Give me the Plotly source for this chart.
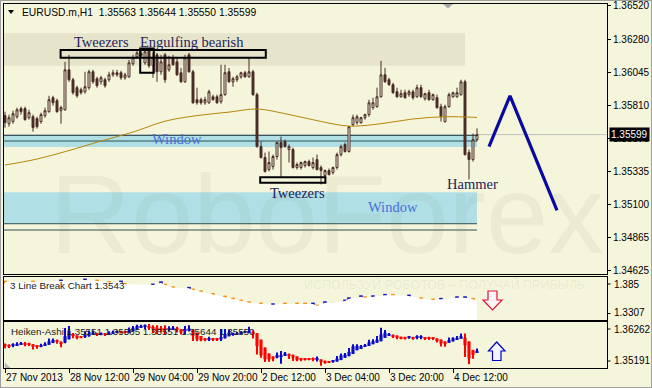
import plotly.graph_objects as go

W, H = 652, 388

# ---------------- DATA ----------------
bar_index = list(range(119))
opens = [
    1.35735, 1.35677, 1.35692, 1.35727, 1.35785, 1.35785, 1.35720, 1.35727, 1.35713, 1.35692,
    1.35735, 1.35763, 1.35863, 1.35842, 1.35770, 1.35777, 1.36063, 1.35992, 1.35935, 1.35920,
    1.35906, 1.35935, 1.36049, 1.35999, 1.35977, 1.35992, 1.35992, 1.36027, 1.36042, 1.36042,
    1.36006, 1.36013, 1.36106, 1.36156, 1.36184, 1.36113, 1.36199, 1.36092, 1.36170, 1.36049,
    1.36170, 1.36063, 1.36149, 1.36120, 1.36042, 1.35977, 1.36170, 1.36049, 1.35849, 1.35849,
    1.35827, 1.35827, 1.35870, 1.35870, 1.35835, 1.35885, 1.36049, 1.35977, 1.35992, 1.36013,
    1.36042, 1.36013, 1.36049, 1.35885, 1.35513, 1.35435, 1.35349, 1.35370, 1.35442, 1.35542,
    1.35549, 1.35492, 1.35492, 1.35363, 1.35363, 1.35378, 1.35406, 1.35363, 1.35420, 1.35363,
    1.35306, 1.35342, 1.35328, 1.35363, 1.35456, 1.35528, 1.35478, 1.35670, 1.35685, 1.35685,
    1.35720, 1.35742, 1.35792, 1.35799, 1.35870, 1.36027, 1.35992, 1.35956, 1.35906, 1.35870,
    1.35899, 1.35885, 1.35906, 1.35870, 1.35935, 1.35856, 1.35899, 1.35849, 1.35863, 1.35799,
    1.35692, 1.35799, 1.35870, 1.35870, 1.35885, 1.35977, 1.35470, 1.35420, 1.35563]
highs = [
    1.35763, 1.35742, 1.35770, 1.35792, 1.35799, 1.35799, 1.35777, 1.35742, 1.35727, 1.35756,
    1.35792, 1.35877, 1.35877, 1.35856, 1.35806, 1.36120, 1.36170, 1.36006, 1.35949, 1.35935,
    1.36049, 1.36063, 1.36063, 1.36013, 1.36020, 1.36006, 1.36049, 1.36063, 1.36063, 1.36056,
    1.36042, 1.36134, 1.36170, 1.36199, 1.36199, 1.36206, 1.36213, 1.36184, 1.36184, 1.36170,
    1.36184, 1.36163, 1.36170, 1.36149, 1.36077, 1.36170, 1.36184, 1.36063, 1.35935, 1.35863,
    1.35870, 1.35920, 1.35885, 1.35885, 1.36099, 1.36099, 1.36077, 1.36013, 1.36027, 1.36049,
    1.36056, 1.36149, 1.36063, 1.35899, 1.35549, 1.35470, 1.35478, 1.35456, 1.35549, 1.35585,
    1.35563, 1.35528, 1.35506, 1.35399, 1.35406, 1.35413, 1.35420, 1.35435, 1.35456, 1.35378,
    1.35349, 1.35356, 1.35370, 1.35470, 1.35528, 1.35542, 1.35656, 1.35742, 1.35742, 1.35727,
    1.35749, 1.35849, 1.35863, 1.35935, 1.36127, 1.36077, 1.36006, 1.35970, 1.35935, 1.35920,
    1.35920, 1.35920, 1.35920, 1.35956, 1.35956, 1.35899, 1.35920, 1.35892, 1.35885, 1.35820,
    1.35813, 1.35899, 1.35906, 1.35935, 1.35992, 1.35992, 1.35492, 1.35606, 1.35644]
lows = [
    1.35649, 1.35656, 1.35677, 1.35713, 1.35742, 1.35699, 1.35706, 1.35620, 1.35642, 1.35677,
    1.35720, 1.35756, 1.35806, 1.35756, 1.35677, 1.35770, 1.35977, 1.35885, 1.35863, 1.35885,
    1.35892, 1.35920, 1.35963, 1.35935, 1.35956, 1.35935, 1.35977, 1.36013, 1.36013, 1.35992,
    1.35992, 1.36006, 1.36092, 1.36142, 1.36149, 1.36099, 1.36077, 1.36006, 1.35977, 1.36027,
    1.35970, 1.36049, 1.36092, 1.36020, 1.35970, 1.35970, 1.36042, 1.35820, 1.35813, 1.35813,
    1.35813, 1.35820, 1.35842, 1.35820, 1.35820, 1.35877, 1.35970, 1.35942, 1.35977, 1.35999,
    1.36006, 1.36006, 1.35877, 1.35506, 1.35428, 1.35328, 1.35335, 1.35349, 1.35420, 1.35292,
    1.35506, 1.35399, 1.35356, 1.35349, 1.35349, 1.35363, 1.35370, 1.35349, 1.35342, 1.35242,
    1.35292, 1.35306, 1.35313, 1.35349, 1.35442, 1.35470, 1.35470, 1.35656, 1.35670, 1.35677,
    1.35706, 1.35727, 1.35777, 1.35792, 1.35863, 1.35970, 1.35949, 1.35892, 1.35863, 1.35863,
    1.35856, 1.35870, 1.35849, 1.35863, 1.35863, 1.35842, 1.35842, 1.35842, 1.35785, 1.35692,
    1.35685, 1.35792, 1.35863, 1.35863, 1.35877, 1.35449, 1.35278, 1.35406, 1.35550]
closes = [
    1.35685, 1.35720, 1.35749, 1.35777, 1.35763, 1.35706, 1.35756, 1.35649, 1.35656, 1.35742,
    1.35770, 1.35849, 1.35827, 1.35763, 1.35792, 1.36063, 1.35992, 1.35899, 1.35877, 1.35899,
    1.35942, 1.36049, 1.35977, 1.35949, 1.36006, 1.35949, 1.36027, 1.36042, 1.36027, 1.36006,
    1.36027, 1.36113, 1.36149, 1.36184, 1.36163, 1.36192, 1.36092, 1.36149, 1.36049, 1.36120,
    1.35992, 1.36099, 1.36099, 1.36027, 1.35977, 1.36149, 1.36049, 1.35827, 1.35827, 1.35827,
    1.35849, 1.35906, 1.35849, 1.35827, 1.35885, 1.36042, 1.35977, 1.35999, 1.36013, 1.36042,
    1.36013, 1.36049, 1.35885, 1.35513, 1.35435, 1.35335, 1.35399, 1.35442, 1.35542, 1.35506,
    1.35513, 1.35513, 1.35363, 1.35385, 1.35399, 1.35406, 1.35378, 1.35399, 1.35349, 1.35342,
    1.35342, 1.35313, 1.35363, 1.35456, 1.35513, 1.35478, 1.35656, 1.35720, 1.35727, 1.35720,
    1.35742, 1.35827, 1.35827, 1.35870, 1.36027, 1.35977, 1.35956, 1.35899, 1.35870, 1.35892,
    1.35863, 1.35906, 1.35863, 1.35935, 1.35870, 1.35892, 1.35849, 1.35885, 1.35792, 1.35727,
    1.35799, 1.35885, 1.35899, 1.35899, 1.35977, 1.35456, 1.35420, 1.35563, 1.35599]

# moving average readings (bar index, price)
ma_idx = [0, 8, 16, 24, 32, 40, 48, 56, 63, 70, 78, 86, 94, 102, 110, 118]
ma_val = [1.35381, 1.35424, 1.35485, 1.35553, 1.35617, 1.35695, 1.35735, 1.35760,
          1.35782, 1.35749, 1.35699, 1.35660, 1.35677, 1.35711, 1.35727, 1.35722]

# forecast zigzag (bar index, price)
fc_idx = [121, 126.25, 138]
fc_price = [1.35513, 1.35877, 1.35056]

# 3 Line Break indicator bricks (bar index, level, direction)
tlb_idx = [0, 7, 14, 20, 23, 26, 29, 30, 37, 39, 40, 42, 46, 47, 49, 52, 55, 57, 59, 61,
           64, 67, 70, 73, 75, 77, 78, 80, 82, 85, 86, 89, 90, 92, 95, 97, 101, 104, 107,
           109, 113, 115, 117, 118]
tlb_val = [1.37869, 1.37869, 1.37995, 1.38121, 1.37995, 1.37805, 1.37869, 1.37578, 1.37490, 1.37780,
           1.37490, 1.37149, 1.37073, 1.36858, 1.36644, 1.36315, 1.35974, 1.35722, 1.35469, 1.35255,
           1.35090, 1.35002, 1.35090, 1.35090, 1.35090, 1.35090, 1.34838, 1.35255, 1.35255, 1.35469,
           1.35760, 1.36012, 1.35886, 1.36012, 1.36189, 1.36189, 1.36101, 1.35760, 1.35596, 1.35684,
           1.35886, 1.35886, 1.35684, 1.35430]
tlb_dir = [-1, -1, 1, 1, -1, -1, 1, -1, 1, 1, -1, -1, 1, -1, -1, -1, -1, -1, -1, -1,
           -1, 1, -1, -1, -1, 1, -1, 1, 0, 1, 1, 1, -1, 1, 1, -1, 1, -1, -1, 1, 1, 1, -1, 0]
tlb_big_idx = [82, 83, 84]
tlb_big_lo = [1.33916, 1.33600, 1.33739]
tlb_big_hi = [1.35255, 1.33790, 1.35255]
tlb_big_dir = [-1, -1, 1]

main_ticks = [1.36520, 1.36280, 1.36045, 1.35810, 1.35570, 1.35335, 1.35100, 1.34865, 1.34625]
tlb_ticks = [1.385, 1.3307]
ha_ticks = [1.36262, 1.35191]
time_idx = [0, 16, 32, 48, 64, 80, 96, 112]
time_labels = ["27 Nov 2013", "28 Nov 12:00", "29 Nov 04:00", "29 Nov 20:00",
               "2 Dec 12:00", "3 Dec 04:00", "3 Dec 20:00", "4 Dec 12:00"]

# ---------------- STYLE ----------------
BG = '#F5F5DC'
CANDLE = '#4A2B25'
ORANGE = '#F0961E'
BLUE3 = '#1414C8'
HA_RED = '#FF0000'
HA_BLUE = '#0A0ACD'
NAVY_TXT = '#1E1E5A'
WIN_TXT = '#4A6FD8'
UI_FONT = 'Liberation Sans'
SERIF = 'Liberation Serif'


def px(x):
    return x / W


def py(y):
    return 1 - y / H


def ppath(points, close=True):
    return 'M ' + ' L '.join(f'{px(a):.5f},{py(b):.5f}' for a, b in points) + (' Z' if close else '')


XR = [-0.25, 150.5]
Y1 = [1.34601, 1.36534]
Y2 = [tlb_ticks[1], tlb_ticks[0]]
Y3 = [ha_ticks[1], ha_ticks[0]]
n = len(bar_index)

fig = go.Figure()

# moving average
fig.add_trace(go.Scatter(x=ma_idx, y=ma_val, mode='lines', line=dict(color='#B8860B', width=1, shape='spline'),
                         xaxis='x', yaxis='y', hoverinfo='skip'))
# candles
fig.add_trace(go.Candlestick(x=bar_index, open=opens, high=highs, low=lows, close=closes,
                             increasing=dict(line=dict(color=CANDLE, width=1), fillcolor=BG),
                             decreasing=dict(line=dict(color=CANDLE, width=1), fillcolor=CANDLE),
                             whiskerwidth=0, xaxis='x', yaxis='y', hoverinfo='skip'))
# forecast zigzag
fig.add_trace(go.Scatter(x=fc_idx, y=fc_price, mode='lines', line=dict(color='#0A0AA0', width=3.2),
                         xaxis='x', yaxis='y', hoverinfo='skip', cliponaxis=False))

# 3 line break panel
fig.add_trace(go.Scatter(x=tlb_idx, y=tlb_val, mode='lines', line=dict(width=0, color='white'),
                         fill='tozeroy', fillcolor='white', xaxis='x2', yaxis='y2', hoverinfo='skip'))
bh = 0.0036
bk_x = [i for i, d in zip(tlb_idx, tlb_dir) if d != 0]
bk_base = [v - bh / 2 for v, d in zip(tlb_val, tlb_dir) if d != 0]
bk_col = [ORANGE if d < 0 else BLUE3 for d in tlb_dir if d != 0]
fig.add_trace(go.Bar(x=bk_x, y=[bh] * len(bk_x), base=bk_base, width=0.9, marker=dict(color=bk_col, line=dict(width=0)),
                     xaxis='x2', yaxis='y2', hoverinfo='skip'))
fig.add_trace(go.Bar(x=tlb_big_idx, y=[h - l for h, l in zip(tlb_big_hi, tlb_big_lo)], base=tlb_big_lo,
                     width=0.8, marker=dict(color=[ORANGE if d < 0 else BLUE3 for d in tlb_big_dir], line=dict(width=0)),
                     xaxis='x2', yaxis='y2', hoverinfo='skip'))

# Heiken-Ashi panel (derived from the candles)
ha_o, ha_c, ha_h, ha_l = [], [], [], []
for i in range(n):
    c = (opens[i] + highs[i] + lows[i] + closes[i]) / 4
    o = (opens[i] + closes[i]) / 2 if i == 0 else (ha_o[-1] + ha_c[-1]) / 2
    ha_o.append(o)
    ha_c.append(c)
    ha_h.append(max(highs[i], o, c))
    ha_l.append(min(lows[i], o, c))
ha_col = [HA_BLUE if c >= o else HA_RED for o, c in zip(ha_o, ha_c)]
minh = 0.00026
fig.add_trace(go.Bar(x=bar_index, y=[h - l for h, l in zip(ha_h, ha_l)], base=ha_l, width=0.28,
                     marker=dict(color=ha_col, line=dict(width=0)), xaxis='x3', yaxis='y3', hoverinfo='skip'))
fig.add_trace(go.Bar(x=bar_index, y=[max(abs(c - o), minh) for o, c in zip(ha_o, ha_c)],
                     base=[min(o, c) for o, c in zip(ha_o, ha_c)], width=0.78,
                     marker=dict(color=ha_col, line=dict(width=0)), xaxis='x3', yaxis='y3', hoverinfo='skip'))

# ---------------- SHAPES ----------------
shapes = []
# gray pattern band
shapes.append(dict(type='rect', xref='x', yref='y', x0=-0.25, x1=115, y0=1.36092, y1=1.36325,
                   fillcolor='#E6E5CC', line=dict(width=0), layer='below'))
# window bands
shapes.append(dict(type='rect', xref='x', yref='y', x0=-0.25, x1=118, y0=1.35511, y1=1.35599,
                   fillcolor='#B0E0E6', line=dict(width=0), layer='below'))
shapes.append(dict(type='rect', xref='x', yref='y', x0=-0.25, x1=118, y0=1.34961, y1=1.35187,
                   fillcolor='#B0E0E6', line=dict(width=0), layer='below'))
# current price line
shapes.append(dict(type='line', xref='x', yref='y', x0=-0.25, x1=150.5, y0=closes[-1], y1=closes[-1],
                   line=dict(color='#C0C0C0', width=1), layer='below'))
for lv in (1.35593, 1.35553, 1.34961, 1.34916):
    shapes.append(dict(type='line', xref='x', yref='y', x0=-0.25, x1=118, y0=lv, y1=lv,
                       line=dict(color='#2F4F4F', width=1), layer='below'))
# pattern boxes
shapes.append(dict(type='rect', xref='x', yref='y', x0=13.9, x1=65.2, y0=1.36149, y1=1.36204,
                   line=dict(color='black', width=2)))
shapes.append(dict(type='rect', xref='x', yref='y', x0=33.8, x1=37.2, y0=1.36042, y1=1.36215,
                   line=dict(color='black', width=2)))
shapes.append(dict(type='rect', xref='x', yref='y', x0=63.8, x1=80.1, y0=1.35254, y1=1.35294,
                   line=dict(color='black', width=2)))
# arrows
shapes.append(dict(type='path', xref='paper', yref='paper',
                   path=ppath([(488, 291), (497, 291), (497, 300), (502, 300), (492.5, 310), (483, 300), (488, 300)]),
                   fillcolor='#FFF4F4', line=dict(color='#DC143C', width=1.2)))
shapes.append(dict(type='path', xref='paper', yref='paper',
                   path=ppath([(496.7, 342), (505, 351), (501, 351), (501, 360.5), (492.5, 360.5), (492.5, 351), (488.5, 351)]),
                   fillcolor='#F4F4FF', line=dict(color='#0000CD', width=1.2)))
# small markers
shapes.append(dict(type='path', xref='paper', yref='paper', path=ppath([(443, 4), (453, 4), (448, 8.5)]),
                   fillcolor='#A8A8A8', line=dict(width=0)))
shapes.append(dict(type='path', xref='paper', yref='paper', path=ppath([(5, 362.5), (5, 368), (10.5, 368)]),
                   fillcolor='#B8B8B8', line=dict(width=0)))
shapes.append(dict(type='path', xref='paper', yref='paper', path=ppath([(8, 10), (14, 10), (11, 14)]),
                   fillcolor='black', line=dict(width=0)))
# sub-window scale tick marks (next to the max/min labels)
for yy in (284, 313.5, 329, 361):
    shapes.append(dict(type='line', xref='paper', yref='paper', x0=px(607), x1=px(610.5), y0=py(yy), y1=py(yy),
                       line=dict(color='black', width=1)))
# outer frame
shapes.append(dict(type='rect', xref='paper', yref='paper', x0=0, x1=1, y0=0, y1=1,
                   line=dict(color='#A0A0A0', width=2)))

# ---------------- ANNOTATIONS ----------------
ann = []
ann.append(dict(x=px(327), y=py(214), xref='paper', yref='paper', text='RoboForex', showarrow=False,
                font=dict(family=UI_FONT, size=112, color='rgba(120,120,80,0.07)'), xanchor='center', yanchor='middle'))
ann.append(dict(x=px(445), y=py(284), xref='paper', yref='paper', text='ИСПОЛЬЗУЙ РОБОТОВ – ПОЛУЧАЙ ПРИБЫЛЬ',
                showarrow=False, font=dict(family=UI_FONT, size=12.5, color='rgba(120,120,80,0.10)'),
                xanchor='center', yanchor='middle'))
ann.append(dict(x=px(20), y=py(12), xref='paper', yref='paper', showarrow=False, xanchor='left', yanchor='middle',
                text=f'EURUSD.m,H1  {opens[-1]:.5f} {highs[-1]:.5f} {lows[-1]:.5f} {closes[-1]:.5f}',
                font=dict(family=UI_FONT, size=10.3, color='black')))


def lab(x, y, t, col, size=14.5):
    ann.append(dict(x=x, y=y, xref='x', yref='y', text=t, showarrow=False, xanchor='center', yanchor='middle',
                    font=dict(family=SERIF, size=size, color=col)))


lab(24, 1.36260, 'Tweezers', NAVY_TXT)
lab(46.75, 1.36260, 'Engulfing bearish', NAVY_TXT)
lab(43.1, 1.35570, 'Window', WIN_TXT)
lab(73, 1.35180, 'Tweezers', NAVY_TXT)
lab(96.9, 1.35080, 'Window', WIN_TXT)
lab(116.9, 1.35248, 'Hammer', NAVY_TXT)

ann.append(dict(x=px(609), y=closes[-1], xref='paper', yref='y', text=f'{closes[-1]:.5f}', showarrow=False,
                xanchor='left', yanchor='middle', bgcolor='black', borderpad=1,
                font=dict(family=UI_FONT, size=10, color='white')))
ann.append(dict(x=px(8), y=py(285), xref='paper', yref='paper', text=f'3 Line Break Chart {tlb_val[-1]:.4f}',
                showarrow=False, xanchor='left', yanchor='middle', font=dict(family=UI_FONT, size=9.8, color='#202020')))
ann.append(dict(x=px(9), y=py(331), xref='paper', yref='paper',
                text='Heiken-Ashi 1.35551 1.35585 1.35551 1.35644 1.35550', showarrow=False,
                xanchor='left', yanchor='middle', font=dict(family=UI_FONT, size=9.8, color='#202020')))
# sub-window max / min scale labels (MetaTrader draws them inside the window edges)
yfont = dict(family=UI_FONT, size=10, color='black')
for yr, vals, fmt in (('y2', tlb_ticks, ['1.385', '1.3307']), ('y3', ha_ticks, ['1.36262', '1.35191'])):
    ann.append(dict(x=px(612), y=vals[0], xref='paper', yref=yr, text=fmt[0], showarrow=False,
                    xanchor='left', yanchor='top', font=yfont))
    ann.append(dict(x=px(612), y=vals[1], xref='paper', yref=yr, text=fmt[1], showarrow=False,
                    xanchor='left', yanchor='bottom', font=yfont))

# ---------------- LAYOUT ----------------
XD = [px(4), px(607)]
axis_common = dict(showgrid=False, zeroline=False, showline=True, mirror=True, linecolor='black', linewidth=1,
                   automargin=False)

fig.update_layout(
    width=W, height=H, autosize=False, margin=dict(l=0, r=0, t=0, b=0, pad=0),
    paper_bgcolor=BG, plot_bgcolor=BG, showlegend=False, hovermode=False, barmode='overlay',
    xaxis=dict(domain=XD, range=XR, anchor='y', showticklabels=False, ticks='', rangeslider=dict(visible=False),
               **axis_common),
    yaxis=dict(domain=[py(274), py(4)], range=Y1, anchor='x', side='right', tickvals=main_ticks,
               ticktext=[f'{v:.5f}' for v in main_ticks], ticks='outside', ticklen=3, tickcolor='black',
               tickfont=yfont, **axis_common),
    xaxis2=dict(domain=XD, range=XR, anchor='y2', showticklabels=False, ticks='', **axis_common),
    yaxis2=dict(domain=[py(320), py(277)], range=Y2, anchor='x2', side='right', showticklabels=False, ticks='',
                **axis_common),
    xaxis3=dict(domain=XD, range=XR, anchor='y3', tickvals=time_idx, ticktext=time_labels, ticks='outside',
                ticklen=4, tickcolor='black', tickfont=yfont, ticklabelposition='outside right', tickangle=0,
                **axis_common),
    yaxis3=dict(domain=[py(368), py(322)], range=Y3, anchor='x3', side='right', showticklabels=False, ticks='',
                **axis_common),
    shapes=shapes, annotations=ann,
)

fig.write_html('out.html', config={'displayModeBar': False})
